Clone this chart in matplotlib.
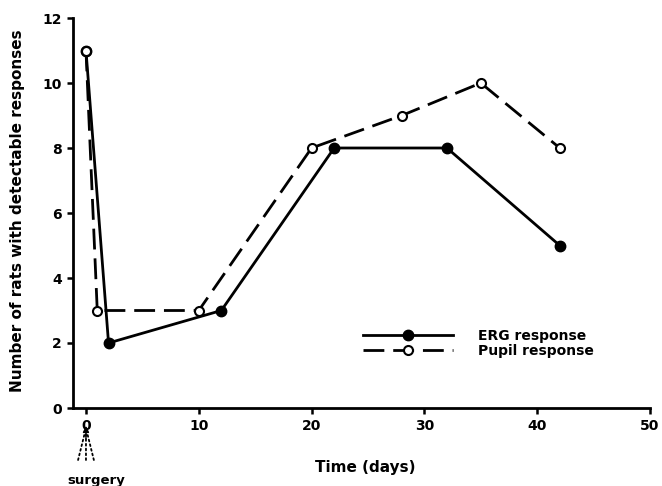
import matplotlib
matplotlib.use("Agg")
import matplotlib.pyplot as plt

plt.rcParams['font.family'] = ['DejaVu Sans']
plt.rcParams['font.weight'] = 'bold'

# data
erg_days = [0, 2, 12, 22, 32, 42]
erg_rats = [11, 2, 3, 8, 8, 5]
pupil_days = [0, 1, 10, 20, 28, 35, 42]
pupil_rats = [11, 3, 3, 8, 9, 10, 8]

W, H = 662, 486
fig = plt.figure(figsize=(W / 100, H / 100), dpi=100)
# axes box in pixels: left 73, right 650, top 18, bottom 408
ax = fig.add_axes([73 / W, 1 - 408 / H, (650 - 73) / W, (408 - 18) / H])

ax.plot(erg_days, erg_rats, color='black', linewidth=2, marker='o',
        markersize=7.5, markerfacecolor='black', label='ERG response')
ax.plot(pupil_days, pupil_rats, color='black', linewidth=2, marker='o',
        markersize=6.5, markerfacecolor='white', markeredgewidth=1.5,
        dashes=(7.5, 3.2), label='Pupil response')

ax.set_xlim(-1.15, 50)
ax.set_ylim(0, 12)
ax.set_xticks([0, 10, 20, 30, 40, 50])
ax.set_yticks([0, 2, 4, 6, 8, 10, 12])
ax.spines['top'].set_visible(False)
ax.spines['right'].set_visible(False)
ax.spines['left'].set_linewidth(2)
ax.spines['bottom'].set_linewidth(2)
ax.tick_params(direction='out', length=4, width=1.8, labelsize=10, pad=4)
for lbl in ax.get_xticklabels() + ax.get_yticklabels():
    lbl.set_fontweight('bold')

fig.text(365 / W, 1 - 467 / H, 'Time (days)', ha='center', va='center',
         fontsize=11, fontweight='bold')
fig.text(18 / W, 1 - 211 / H, 'Number of rats with detectable responses',
         ha='center', va='center', rotation=90, fontsize=11, fontweight='bold')
fig.text(96 / W, 1 - 480 / H, 'surgery', ha='center', va='center',
         fontsize=9.5, fontweight='bold')

# dotted arrow pointing at day 0 (surgery)
for dx in (-0.7, 0, 0.7):
    ax.annotate('', xy=(0, -0.62), xytext=(dx, -1.6), annotation_clip=False,
                arrowprops=dict(arrowstyle='-', linestyle=':', color='black',
                                linewidth=1.3, shrinkA=0, shrinkB=0))
ax.annotate('', xy=(0, -0.55), xytext=(0, -0.95), annotation_clip=False,
            arrowprops=dict(arrowstyle='-|>', color='black', linewidth=1,
                            mutation_scale=9, shrinkA=0, shrinkB=0))

ax.legend(loc='upper left', bbox_to_anchor=(350 / W, 1 - 316 / H),
          bbox_transform=fig.transFigure, frameon=False,
          handlelength=6.5, handletextpad=1.8, labelspacing=0.1,
          prop={'weight': 'bold', 'size': 10})

fig.savefig('out.png', dpi=100)
